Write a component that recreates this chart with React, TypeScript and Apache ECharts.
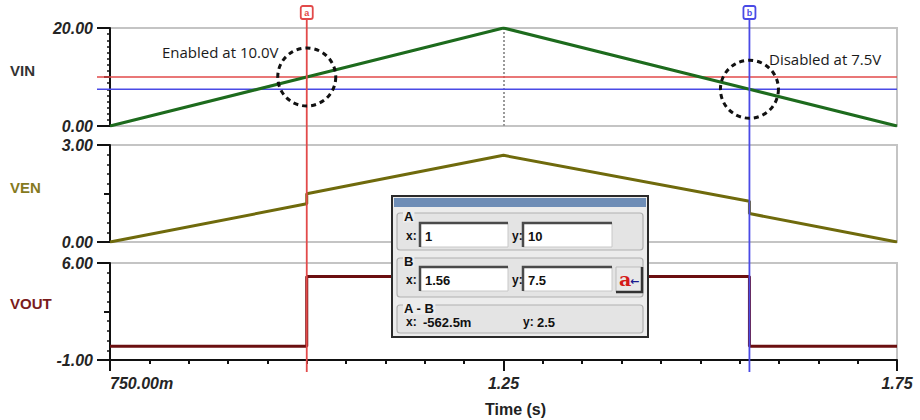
import React, { useEffect, useRef } from "react";
import * as echarts from "echarts";

// ---- data ----
const xMin = 0.75;
const xMax = 1.75;
const xLabelValues = [0.75, 1.25, 1.75];
const xTickLabels = ["750.00m", "1.25", "1.75"];

const panelNames = ["VIN", "VEN", "VOUT"];
const panelColors = ["#1d6b1d", "#6f6a0c", "#6b0f10"];
const panelLabelColors = ["#333333", "#857a1e", "#7a1c1c"];
const yMins = [0, 0, -1];
const yMaxs = [20, 3, 6];
const yTickCounts = [16, 10, 10];

const vinTime = [0.75, 1.0, 1.25, 1.5625, 1.75];
const vinValues = [0, 10, 20, 7.5, 0];
const venTime = [0.75, 1.0, 1.0, 1.25, 1.5625, 1.5625, 1.75];
const venValues = [0, 1.18, 1.49, 2.68, 1.26, 0.88, 0];
const voutTime = [0.75, 1.0, 1.0, 1.5625, 1.5625, 1.75];
const voutValues = [0, 0, 5.03, 5.03, 0, 0];

const cursorA = [1.0, 10];
const cursorB = [1.5625, 7.5];
const annotations = ["Enabled at 10.0V", "Disabled at 7.5V"];

const zip = (a: number[], b: number[]) => a.map((t, i) => [t, b[i]]);
const ticks = (min: number, max: number, n: number) =>
  Array.from({ length: n + 1 }, (_, i) => +(min + ((max - min) * i) / n).toFixed(6));

const labelFont = {
  fontFamily: "Liberation Sans",
  fontWeight: "bold",
  fontStyle: "italic",
  fontSize: 16,
  color: "#252525",
};

const fmtMilli = (v: number) => {
  const a = Math.abs(v);
  if (a < 1) return (v * 1000).toFixed(1) + "m";
  return String(+v.toFixed(3));
};

export default function App() {
  const ref = useRef<HTMLDivElement>(null);
  useEffect(() => {
    const chart = echarts.init(ref.current!, null, { renderer: "svg" });
    const gridTops = [28, 145, 263];
    const gridHeights = [98, 97, 97];
    const grids = gridTops.map((top, i) => ({
      left: 110,
      right: 23,
      top,
      height: gridHeights[i],
      show: true,
      borderColor: "#c4c4c4",
      borderWidth: 2,
      backgroundColor: "transparent",
    }));
    const axisLineStyle = { color: "#111", width: 2 };
    const xAxes: any[] = [
      ...[0, 1].map((i) => ({ type: "value", gridIndex: i, min: xMin, max: xMax, show: false, position: "bottom" })),
      {
        type: "value",
        gridIndex: 2,
        position: "bottom",
        min: xMin,
        max: xMax,
        axisLine: { show: true, onZero: false, lineStyle: axisLineStyle },
        axisTick: { show: true, customValues: ticks(xMin, xMax, 20), length: 4, lineStyle: { color: "#111", width: 2 } },
        axisLabel: {
          show: true,
          customValues: xLabelValues,
          formatter: (v: number) => {
            const i = xLabelValues.findIndex((x) => Math.abs(x - v) < 1e-9);
            return i >= 0 ? xTickLabels[i] : "";
          },
          margin: 15,
          alignMinLabel: "left",
          alignMaxLabel: "center",
          showMinLabel: true,
          showMaxLabel: true,
          ...labelFont,
        },
        splitLine: { show: false },
      },
      {
        type: "value",
        gridIndex: 2,
        position: "bottom",
        min: xMin,
        max: xMax,
        axisLine: { show: false, onZero: false },
        axisTick: { show: true, customValues: xLabelValues, length: 11, lineStyle: { color: "#111", width: 2 } },
        axisLabel: { show: false },
        splitLine: { show: false },
      },
    ];
    const yAxes: any[] = [
      ...[0, 1, 2].map((i) => ({
        type: "value",
        gridIndex: i,
        position: "left",
        min: yMins[i],
        max: yMaxs[i],
        axisLine: { show: true, onZero: false, lineStyle: axisLineStyle },
        axisTick: {
          show: true,
          customValues: ticks(yMins[i], yMaxs[i], yTickCounts[i]),
          length: 3,
          lineStyle: { color: "#111", width: 1.5 },
        },
        axisLabel: {
          show: true,
          customValues: [yMins[i], yMaxs[i]],
          formatter: (v: number) => v.toFixed(2),
          margin: 17,
          showMinLabel: true,
          showMaxLabel: true,
          ...labelFont,
        },
        splitLine: { show: false },
      })),
      ...[0, 1, 2].map((i) => ({
        type: "value",
        gridIndex: i,
        position: "left",
        min: yMins[i],
        max: yMaxs[i],
        axisLine: { show: false, onZero: false },
        axisTick: {
          show: true,
          customValues: [yMins[i], (yMins[i] + yMaxs[i]) / 2, yMaxs[i]],
          length: 6,
          lineStyle: { color: "#111", width: 2 },
        },
        axisLabel: { show: false },
        splitLine: { show: false },
      })),
      ...[0, 1, 2].map((i) => ({
        type: "value",
        gridIndex: i,
        position: "left",
        min: yMins[i],
        max: yMaxs[i],
        axisLine: { show: false, onZero: false },
        axisTick: {
          show: true,
          customValues: [yMins[i], yMaxs[i]],
          length: 13,
          lineStyle: { color: "#111", width: 2 },
        },
        axisLabel: { show: false },
        splitLine: { show: false },
      })),
    ];
    const seriesData = [zip(vinTime, vinValues), zip(venTime, venValues), zip(voutTime, voutValues)];
    const series: any[] = seriesData.map((d, i) => ({
      name: panelNames[i],
      type: "line",
      xAxisIndex: i,
      yAxisIndex: i,
      data: d,
      showSymbol: false,
      symbol: "none",
      lineStyle: { color: panelColors[i], width: 3 },
      z: 3,
      ...(i === 0
        ? {
            markLine: {
              silent: true,
              symbol: ["none", "none"],
              label: { show: false },
              lineStyle: { color: "#9a9a9a", type: "dotted", width: 2 },
              data: [{ xAxis: vinTime[2] }],
              z: 1,
            },
          }
        : {}),
    }));

    chart.setOption({
      animation: false,
      backgroundColor: "#ffffff",
      grid: grids,
      xAxis: xAxes,
      yAxis: yAxes,
      series,
    });

    const ax = (t: number) => chart.convertToPixel({ xAxisIndex: 2 }, t) as number;
    const ay = (v: number) => chart.convertToPixel({ yAxisIndex: 0 }, v) as number;
    const left = ax(xMin);
    const right = ax(xMax);

    const txt = (x: number, y: number, text: string, extra: any = {}) => ({
      type: "text",
      x,
      y,
      z: extra.z ?? 100,
      style: {
        text,
        fill: extra.fill ?? "#111",
        fontSize: extra.fontSize ?? 13,
        fontFamily: extra.fontFamily ?? "Liberation Sans",
        fontWeight: extra.fontWeight ?? "bold",
        fontStyle: extra.fontStyle ?? "normal",
        align: extra.align ?? "left",
        textAlign: extra.align ?? "left",
        verticalAlign: "middle",
        textVerticalAlign: "middle",
      },
    });

    const els: any[] = [];
    // panel labels
    const labelYs = [70, 187, 303];
    panelNames.forEach((n, i) =>
      els.push(txt(10, labelYs[i], n, { fill: panelLabelColors[i], fontSize: 15, z: 10 }))
    );
    // Time label
    els.push(txt(ax((xMin + xMax) / 2) + 12, 409, "Time (s)", { fontSize: 16, align: "center", fill: "#222", z: 10 }));

    // cursors
    const cursors = [
      { c: cursorA, color: "#e24a4a", letter: "a" },
      { c: cursorB, color: "#4a4ae6", letter: "b" },
    ];
    cursors.forEach(({ c, color, letter }) => {
      const px = ax(c[0]);
      const py = ay(c[1]);
      els.push({
        type: "line",
        z: 1,
        shape: { x1: left - 13, y1: py, x2: right, y2: py },
        style: { stroke: color, lineWidth: 1.6 },
      });
      els.push({
        type: "line",
        z: 5,
        shape: { x1: px, y1: 19, x2: px, y2: 372 },
        style: { stroke: color, lineWidth: 1.8 },
      });
      els.push({
        type: "rect",
        z: 6,
        shape: { x: px - 6, y: 6, width: 12, height: 13, r: 2 },
        style: { fill: "#fff", stroke: color, lineWidth: 1.8 },
      });
      els.push(txt(px, 13, letter, { fill: color, fontSize: 9, align: "center", z: 7 }));
      els.push({
        type: "circle",
        z: 8,
        shape: { cx: px, cy: py, r: 29 },
        style: { fill: "none", stroke: "#111", lineWidth: 3, lineDash: [5, 4] },
      });
    });
    // annotations
    els.push(txt(162, 52, annotations[0], { fontWeight: "normal", fontFamily: "Open Sans", fontSize: 15, fill: "#1a1a1a", z: 9 }));
    els.push(txt(769, 59, annotations[1], { fontWeight: "normal", fontFamily: "Open Sans", fontSize: 15, fill: "#1a1a1a", z: 9 }));

    // cursor dialog
    const Z = 100;
    els.push({ type: "rect", z: Z, shape: { x: 392, y: 196, width: 256, height: 141 }, style: { fill: "#ececec", stroke: "#2a2a2a", lineWidth: 2 } });
    els.push({ type: "rect", z: Z + 1, shape: { x: 394, y: 198, width: 252, height: 9 }, style: { fill: "#6e8db6" } });
    const group = (y: number, h: number, label: string) => {
      els.push({ type: "rect", z: Z + 1, shape: { x: 397, y, width: 246, height: h, r: 3 }, style: { fill: "#e4e4e4", stroke: "#b0b0b0", lineWidth: 1.2 } });
      els.push({
        type: "text",
        z: Z + 3,
        x: 403,
        y: y + 3,
        style: {
          text: label,
          fill: "#111",
          fontSize: 13,
          fontFamily: "Liberation Sans",
          fontWeight: "bold",
          align: "left",
          textAlign: "left",
          verticalAlign: "middle",
          textVerticalAlign: "middle",
          backgroundColor: "#ececec",
          padding: [0, 1],
        },
      });
    };
    const input = (x: number, y: number, w: number, value: string) => {
      els.push({ type: "rect", z: Z + 2, shape: { x, y, width: w, height: 24 }, style: { fill: "#ffffff", stroke: "#c8c8c8", lineWidth: 1 } });
      els.push({ type: "polyline", z: Z + 3, shape: { points: [[x, y + 24], [x, y], [x + w, y]] }, style: { stroke: "#4a4a4a", lineWidth: 2.5, fill: "none" } });
      els.push(txt(x + 5, y + 13, value, { fontSize: 13, z: Z + 4 }));
    };
    group(213, 37, "A");
    els.push(txt(406, 236, "x:", { fontSize: 12, z: Z + 3 }));
    input(420, 223, 88, fmtMilli(cursorA[0]));
    els.push(txt(512, 236, "y:", { fontSize: 12, z: Z + 3 }));
    input(523, 223, 89, fmtMilli(cursorA[1]));

    group(258, 39, "B");
    els.push(txt(406, 280, "x:", { fontSize: 12, z: Z + 3 }));
    input(420, 267, 88, cursorB[0].toFixed(2));
    els.push(txt(512, 280, "y:", { fontSize: 12, z: Z + 3 }));
    input(523, 267, 89, fmtMilli(cursorB[1]));
    // button
    els.push({ type: "rect", z: Z + 2, shape: { x: 616, y: 267, width: 26, height: 25 }, style: { fill: "#e8e8e8", stroke: "#bdbdbd", lineWidth: 1 } });
    els.push({ type: "polyline", z: Z + 3, shape: { points: [[616, 292], [642, 292], [642, 267]] }, style: { stroke: "#333", lineWidth: 2.5, fill: "none" } });
    els.push(txt(619, 279, "a", { fontSize: 19, fontFamily: "DejaVu Serif", fill: "#d41a1a", z: Z + 4 }));
    els.push(txt(630, 281, "←", { fontSize: 11, fontFamily: "DejaVu Sans", fill: "#1a1a90", z: Z + 4 }));

    group(305, 28, "A - B");
    els.push(txt(406, 322, "x:", { fontSize: 12, z: Z + 3 }));
    els.push(txt(423, 322, fmtMilli(cursorA[0] - cursorB[0]), { fontSize: 13, z: Z + 3 }));
    els.push(txt(523, 322, "y:", { fontSize: 12, z: Z + 3 }));
    els.push(txt(537, 322, fmtMilli(cursorA[1] - cursorB[1]), { fontSize: 13, z: Z + 3 }));

    chart.setOption({ graphic: { elements: els } });
    return () => chart.dispose();
  }, []);
  return (
    <div
      ref={ref}
      style={{ position: "fixed", left: 0, top: 0, width: 920, height: 420, background: "#fff" }}
    />
  );
}
